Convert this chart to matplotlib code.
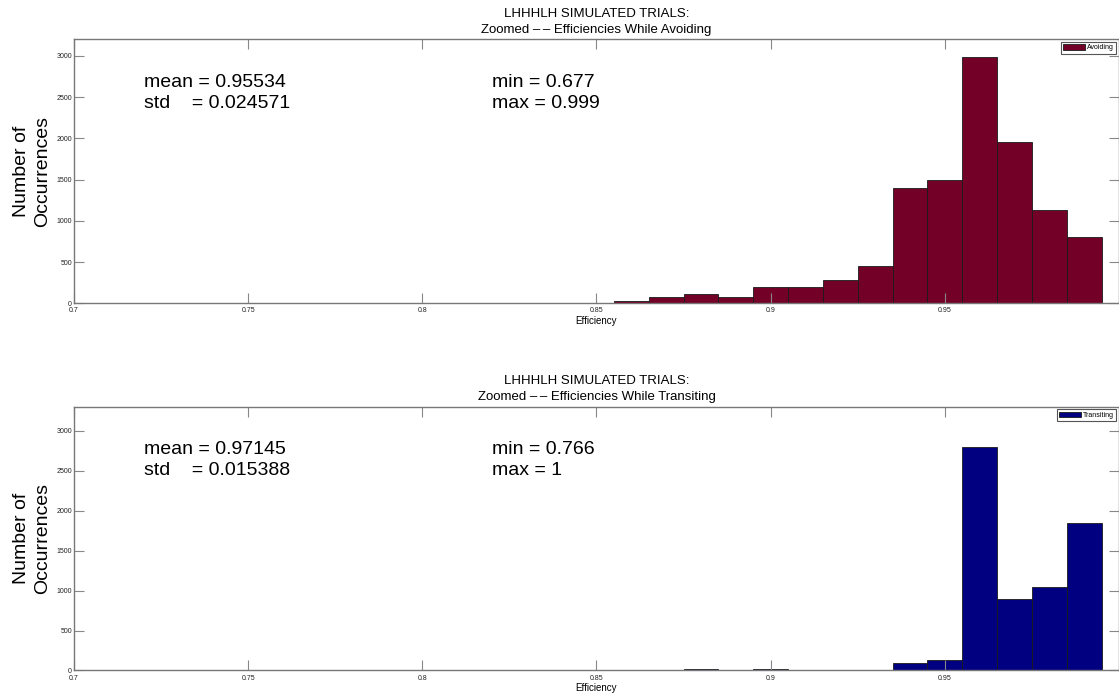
import numpy as np
import matplotlib
matplotlib.use('Agg')
import matplotlib.pyplot as plt

plt.rcParams['font.family'] = ['Liberation Sans', 'DejaVu Sans']

# histogram bin centres and counts for each manoeuvre
avoid_centers = [0.68, 0.69, 0.70, 0.71, 0.72, 0.73, 0.74, 0.75, 0.76, 0.77,
                 0.78, 0.79, 0.80, 0.81, 0.82, 0.83, 0.84, 0.85, 0.86, 0.87,
                 0.88, 0.89, 0.90, 0.91, 0.92, 0.93, 0.94, 0.95, 0.96, 0.97,
                 0.98, 0.99]
avoid_counts = [1, 0, 0, 0, 0, 0, 1, 0, 0, 1,
                0, 1, 1, 2, 3, 4, 8, 9, 28, 75,
                113, 75, 196, 192, 285, 452, 1401, 1490, 2985, 1950,
                1134, 800]

trans_centers = [0.77, 0.78, 0.79, 0.80, 0.81, 0.82, 0.83, 0.84, 0.85, 0.86,
                 0.87, 0.88, 0.89, 0.90, 0.91, 0.92, 0.93, 0.94, 0.95, 0.96,
                 0.97, 0.98, 0.99, 1.00]
trans_counts = [1, 0, 0, 0, 0, 1, 0, 1, 1, 3,
                8, 15, 8, 15, 8, 2, 3, 92, 130, 2790,
                900, 1042, 1845, 10]

avoid_stats = {'mean': '0.95534', 'std': '0.024571', 'min': '0.677', 'max': '0.999'}
trans_stats = {'mean': '0.97145', 'std': '0.015388', 'min': '0.766', 'max': '1'}

bin_w = 0.01
xticks = [0.7, 0.75, 0.8, 0.85, 0.9, 0.95]
xtick_labels = ['0.7', '0.75', '0.8', '0.85', '0.9', '0.95']
yticks = [0, 500, 1000, 1500, 2000, 2500, 3000]

fig = plt.figure(figsize=(11.19, 6.93), dpi=100)
ax1 = fig.add_axes([0.0661, 0.5623, 0.9339, 0.381])
ax2 = fig.add_axes([0.0661, 0.0325, 0.9339, 0.3806])

panels = [
    (ax1, avoid_centers, avoid_counts, '#730026', 'Avoiding', avoid_stats, 3200),
    (ax2, trans_centers, trans_counts, '#000080', 'Transiting', trans_stats, 3300),
]

for ax, centers, counts, color, name, st, ytop in panels:
    ax.bar(centers, counts, width=bin_w, color=color, edgecolor='#1a1a1a',
           linewidth=0.6, label=name)
    ax.set_xlim(0.7, 1.0)
    ax.set_ylim(0, ytop)
    ax.set_xticks(xticks)
    ax.set_xticklabels(xtick_labels)
    ax.set_yticks(yticks)
    ax.tick_params(direction='in', length=7, width=0.8, color='#888888',
                   labelsize=5, top=True, right=True, labelcolor='#222222')
    ax.tick_params(axis='x', pad=3)
    ax.tick_params(axis='y', pad=1.5)
    for sp in ax.spines.values():
        sp.set_color('#777777')
        sp.set_linewidth(1.0)

    ax.set_title('LHHHLH SIMULATED TRIALS:\nZoomed \u2013\u2009\u2013 Efficiencies While ' + name,
                 fontsize=9.5, pad=4.5, linespacing=1.45)
    ax.set_xlabel('Efficiency', fontsize=7, labelpad=1)
    ax.set_ylabel('Number of\nOccurrences', fontsize=14, labelpad=4,
                  linespacing=1.25)

    trans = ax.get_xaxis_transform()
    ax.text(0.72, 0.797, 'mean = ' + st['mean'] + '\nstd    = ' + st['std'],
            transform=trans, fontsize=14, va='center', ha='left',
            linespacing=1.33)
    ax.text(0.82, 0.797, 'min = ' + st['min'] + '\nmax = ' + st['max'],
            transform=trans, fontsize=14, va='center', ha='left',
            linespacing=1.33)

    leg = ax.legend(loc='upper right', fontsize=5, handlelength=3.2,
                    handleheight=0.9, borderpad=0.3, handletextpad=0.3,
                    borderaxespad=0.4, fancybox=False, framealpha=1)
    leg.get_frame().set_edgecolor('#555555')
    leg.get_frame().set_linewidth(0.8)

fig.savefig('out.png', dpi=100)
